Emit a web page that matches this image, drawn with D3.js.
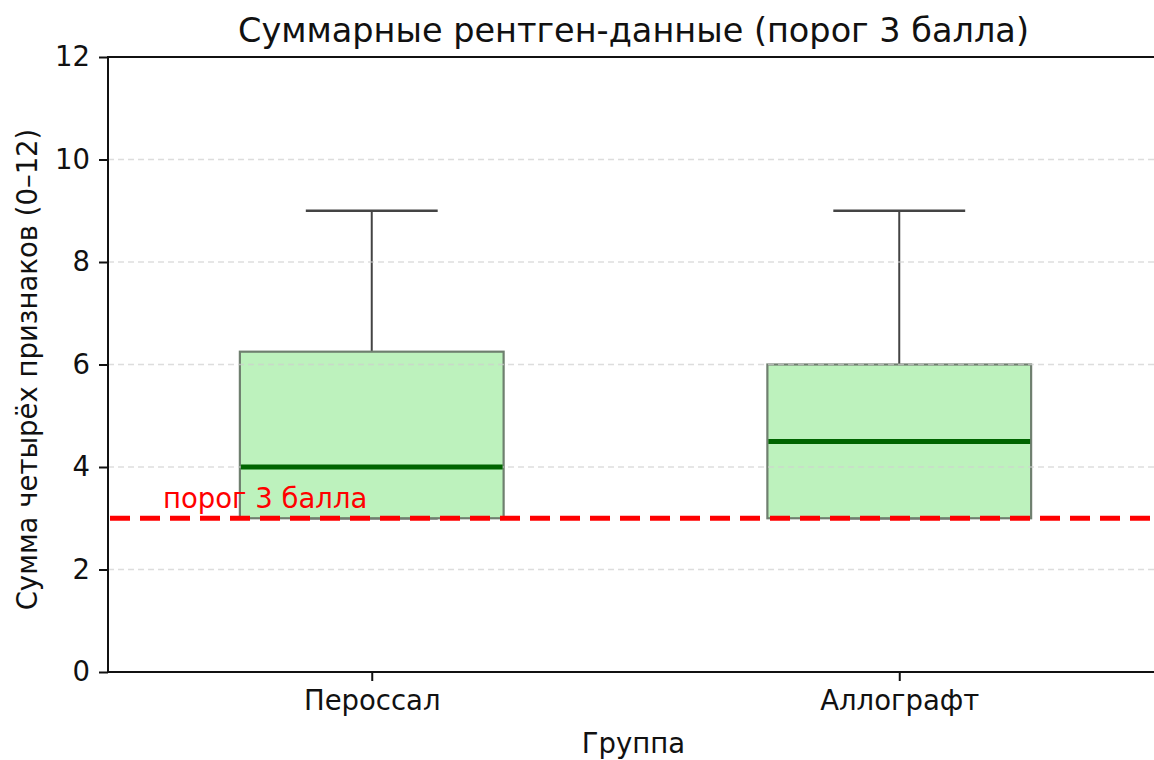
<!DOCTYPE html>
<html>
<head>
<meta charset="utf-8">
<script src="https://cdn.jsdelivr.net/npm/d3@7"></script>
<style>
  html, body { margin: 0; padding: 0; background: #fff; }
  svg { display: block; overflow: hidden; font-family: "DejaVu Sans", sans-serif; }
</style>
</head>
<body>
<svg id="chart" width="1154" height="760"></svg>
<script>
// Summary box statistics per group
const groups = ["Пероссал", "Аллографт"];
const whiskerLow = [3, 3];
const q1 = [3, 3];
const medians = [4, 4.5];
const q3 = [6.25, 6];
const whiskerHigh = [9, 9];
const threshold = 3;
const yTicks = [0, 2, 4, 6, 8, 10, 12];

const W = 1154, H = 760;
const margin = { left: 108, top: 57, bottom: 88 };
const plotRight = 1163;            // axes extend a little past the canvas edge
const plotW = plotRight - margin.left;
const plotH = H - margin.top - margin.bottom;

const svg = d3.select("#chart");
const g = svg.append("g").attr("transform", `translate(${margin.left},${margin.top})`);

// positions 1 and 2 on a 0.5..2.5 axis, boxes 0.5 units wide
const x = d3.scaleLinear().domain([0.5, 2.5]).range([0, plotW]);
const y = d3.scaleLinear().domain([0, 12]).range([plotH, 0]);
const boxW = x(1.25) - x(0.75);
const capW = boxW / 2;

const data = groups.map((name, i) => ({
  name, pos: i + 1,
  lo: whiskerLow[i], q1: q1[i], med: medians[i], q3: q3[i], hi: whiskerHigh[i]
}));

const bx = g.append("g");
data.forEach(d => {
  const cx = x(d.pos);
  // whiskers and caps
  bx.append("line").attr("x1", cx).attr("x2", cx)
    .attr("y1", y(d.q3)).attr("y2", y(d.hi))
    .attr("stroke", "#444").attr("stroke-width", 2);
  bx.append("line").attr("x1", cx).attr("x2", cx)
    .attr("y1", y(d.q1)).attr("y2", y(d.lo))
    .attr("stroke", "#444").attr("stroke-width", 2);
  [d.lo, d.hi].forEach(v => {
    bx.append("line").attr("x1", cx - capW / 2).attr("x2", cx + capW / 2)
      .attr("y1", y(v)).attr("y2", y(v))
      .attr("stroke", "#444").attr("stroke-width", 2.4);
  });
  // box
  bx.append("rect")
    .attr("x", cx - boxW / 2).attr("width", boxW)
    .attr("y", y(d.q3)).attr("height", y(d.q1) - y(d.q3))
    .attr("fill", "#bdf2bd")
    .attr("stroke", "#6f7f6f").attr("stroke-width", 2.2);
});

// horizontal grid over the boxes
g.append("g").selectAll("line").data(yTicks.filter(t => t > 0 && t < 12)).join("line")
  .attr("x1", 0).attr("x2", plotW)
  .attr("y1", d => y(d)).attr("y2", d => y(d))
  .attr("stroke", "#cfcfcf").attr("stroke-opacity", 0.7)
  .attr("stroke-width", 1.3).attr("stroke-dasharray", "6,4");

// medians
g.append("g").selectAll("line").data(data).join("line")
  .attr("x1", d => x(d.pos) - boxW / 2 + 1).attr("x2", d => x(d.pos) + boxW / 2 - 1)
  .attr("y1", d => y(d.med)).attr("y2", d => y(d.med))
  .attr("stroke", "#006400").attr("stroke-width", 5);

// threshold line and label
g.append("line")
  .attr("x1", 0).attr("x2", plotW)
  .attr("y1", y(threshold)).attr("y2", y(threshold))
  .attr("stroke", "#ff0000").attr("stroke-width", 5)
  .attr("stroke-dasharray", "20,10").attr("stroke-dashoffset", -2);
g.append("text")
  .attr("x", 55).attr("y", y(threshold) - 10)
  .attr("fill", "#ff0000").attr("font-size", 27.5)
  .text("порог " + threshold + " балла");

// axes
const yAxis = d3.axisLeft(y).tickValues(yTicks).tickSize(9).tickPadding(9);
const ya = g.append("g").call(yAxis);
ya.selectAll("text").attr("font-size", 27.5).attr("fill", "#111").attr("font-family", "DejaVu Sans");
ya.selectAll("line").attr("stroke", "#111").attr("stroke-width", 2);
ya.select(".domain").remove();

const xAxis = d3.axisBottom(x).tickValues(data.map(d => d.pos))
  .tickFormat((d, i) => groups[i]).tickSize(9).tickPadding(9);
const xa = g.append("g").attr("transform", `translate(0,${plotH})`).call(xAxis);
xa.selectAll("text").attr("font-size", 27.5).attr("fill", "#111").attr("font-family", "DejaVu Sans");
xa.selectAll("line").attr("stroke", "#111").attr("stroke-width", 2);
xa.select(".domain").remove();

// frame
g.append("rect").attr("x", 0).attr("y", 0).attr("width", plotW).attr("height", plotH)
  .attr("fill", "none").attr("stroke", "#111").attr("stroke-width", 2);

// titles
svg.append("text").attr("x", margin.left + plotW / 2 - 2).attr("y", 42)
  .attr("text-anchor", "middle").attr("font-size", 33.5).attr("fill", "#111")
  .text("Суммарные рентген-данные (порог 3 балла)");
svg.append("text").attr("x", margin.left + plotW / 2 - 2).attr("y", 753)
  .attr("text-anchor", "middle").attr("font-size", 27.5).attr("fill", "#111")
  .text("Группа");
svg.append("text")
  .attr("transform", `translate(37,${margin.top + plotH / 2 + 5}) rotate(-90)`)
  .attr("text-anchor", "middle").attr("font-size", 27.5).attr("fill", "#111")
  .text("Сумма четырёх признаков (0–12)");
</script>
</body>
</html>
